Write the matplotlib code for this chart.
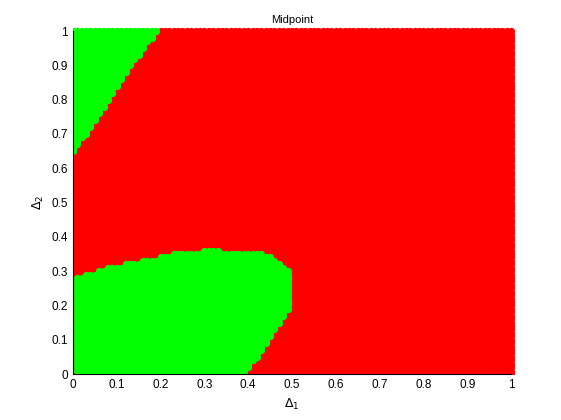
import numpy as np
import matplotlib
matplotlib.use("Agg")
import matplotlib.pyplot as plt
from matplotlib.path import Path
from matplotlib.patches import Rectangle

# boundary of the upper-left green region
top_x = [0.0, 0.0, 0.05, 0.107, 0.15, 0.195, 0.0]
top_y = [1.0, 0.645, 0.735, 0.85, 0.93, 1.0, 1.0]

# boundary of the lower-left green region
low_x = [0.0, 0.0, 0.046, 0.084, 0.153, 0.24, 0.313, 0.388, 0.434, 0.466, 0.5, 0.5, 0.466, 0.427, 0.393, 0.0]
low_y = [0.0, 0.283, 0.294, 0.312, 0.33, 0.353, 0.362, 0.355, 0.353, 0.33, 0.297, 0.20, 0.137, 0.061, 0.0, 0.0]

step = 0.01
d1 = np.arange(0, 1 + step / 2, step)
d2 = np.arange(0, 1 + step / 2, step)
X, Y = np.meshgrid(d1, d2)
pts = np.column_stack([X.ravel(), Y.ravel()])

top_path = Path(np.column_stack([top_x, top_y]))
low_path = Path(np.column_stack([low_x, low_y]))
green = top_path.contains_points(pts, radius=1e-9) | low_path.contains_points(pts, radius=1e-9)

plt.rcParams['font.family'] = ['Liberation Sans', 'DejaVu Sans']
fig = plt.figure(figsize=(5.61, 4.20), dpi=100)
ax = fig.add_axes([0.130, 0.1095, 0.781, 0.8165])

l1, = ax.plot(pts[~green, 0], pts[~green, 1], 'o', color='#ff0000', ms=5.2, mec='none', zorder=3)
l2, = ax.plot(pts[green, 0], pts[green, 1], 'o', color='#00ff00', ms=5.2, mec='none', zorder=3)
# markers spill over the top and right edges, but not left/bottom
for ln in (l1, l2):
    ln.set_clip_path(Rectangle((0, 0), 1.02, 1.02, transform=ax.transAxes))

ax.set_xlim(0, 1)
ax.set_ylim(0, 1)
ticks = np.round(np.arange(0, 1.01, 0.1), 1)
ax.set_xticks(ticks)
ax.set_yticks(ticks)
ax.set_xticklabels([f"{t:g}" for t in ticks])
ax.set_yticklabels([f"{t:g}" for t in ticks])
ax.tick_params(direction='in', length=3, width=0.6, labelsize=8.5, top=True, right=True)
for s in ['left', 'bottom']:
    ax.spines[s].set_zorder(5)
    ax.spines[s].set_linewidth(0.8)
for s in ['top', 'right']:
    ax.spines[s].set_zorder(1)

ax.set_title("Midpoint", fontsize=8)
ax.set_xlabel(r"$\Delta_1$", fontsize=9)
ax.set_ylabel(r"$\Delta_2$", fontsize=9)

fig.savefig("out.png", dpi=100)
